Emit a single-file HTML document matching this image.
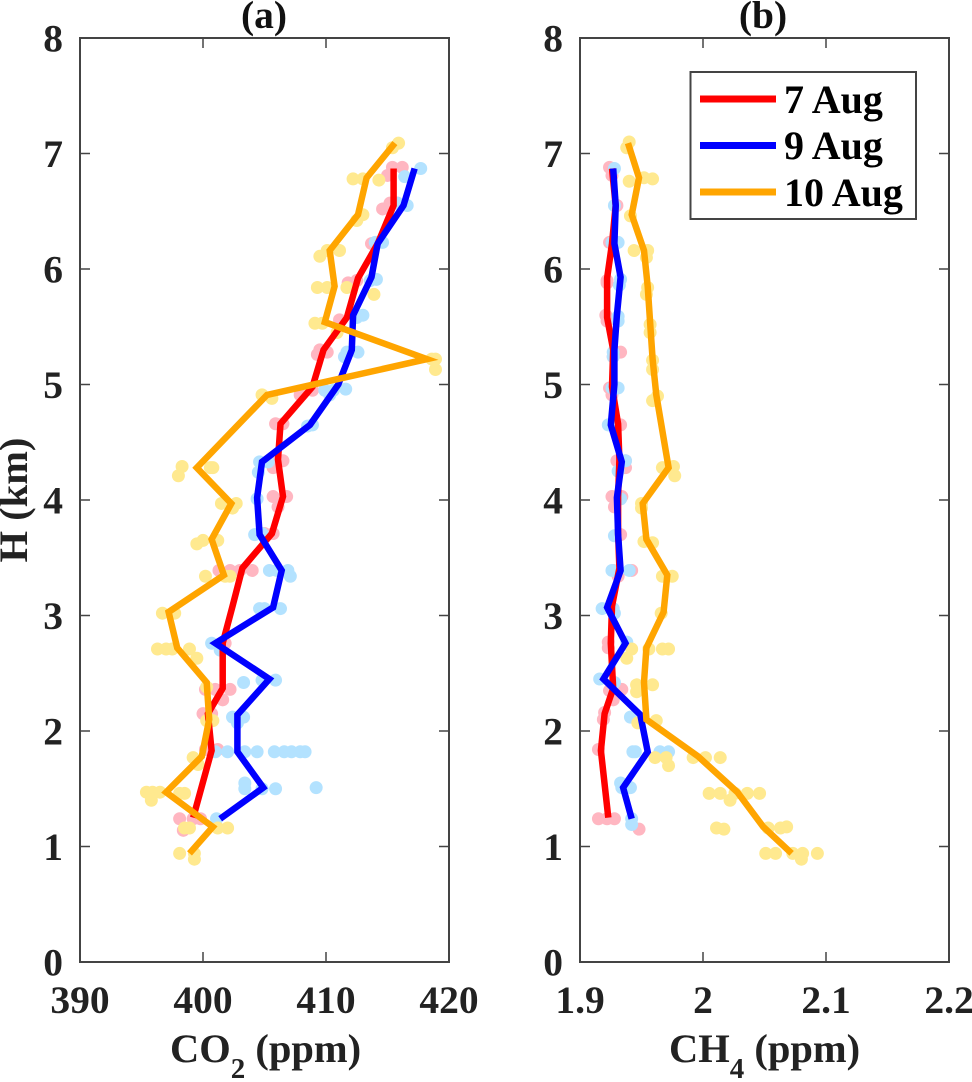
<!DOCTYPE html>
<html lang="en">
<head>
<meta charset="utf-8">
<title>CO2 and CH4 vertical profiles</title>
<style>
html,body{margin:0;padding:0;background:#fff;width:972px;height:1082px;overflow:hidden}
svg{display:block;position:absolute;left:0;top:0}
text{font-family:"Liberation Serif","Times New Roman",serif;font-weight:bold;font-size:39.5px;fill:#222}
.axis-title{font-size:40.5px}
.axis-sub{font-size:29px}
.legend-text{font-size:40px;fill:#000}
</style>
</head>
<body>
<svg id="chart" width="972" height="1082" viewBox="0 0 972 1082" xmlns="http://www.w3.org/2000/svg">
  <g id="panelA"></g>
  <g id="panelB"></g>
  <text x="264" y="28" text-anchor="middle" style="fill:#111">(a)</text>
  <text x="763" y="28" text-anchor="middle" style="fill:#111">(b)</text>
  <text class="axis-title" transform="translate(27,500) rotate(-90)" text-anchor="middle">H (km)</text>
  <text class="axis-title" x="170" y="1062">CO<tspan class="axis-sub" dy="16">2</tspan><tspan dy="-16"> (ppm)</tspan></text>
  <text class="axis-title" x="669" y="1062">CH<tspan class="axis-sub" dy="16">4</tspan><tspan dy="-16"> (ppm)</tspan></text>
  <g>
    <rect x="690.5" y="72" width="225.5" height="147" fill="#fff" stroke="#444" stroke-width="2"></rect>
    <line x1="700" x2="776" y1="99" y2="99" stroke="#ff0000" stroke-width="7"></line>
    <text class="legend-text" x="784" y="113">7 Aug</text>
    <line x1="700" x2="776" y1="145.5" y2="145.5" stroke="#0000ff" stroke-width="7"></line>
    <text class="legend-text" x="784" y="159">9 Aug</text>
    <line x1="700" x2="776" y1="192" y2="192" stroke="#ffa500" stroke-width="7"></line>
    <text class="legend-text" x="784" y="206">10 Aug</text>
  </g>
</svg>
<script>
const co2Ticks = [390, 400, 410, 420];
const co2TickLabels = ["390", "400", "410", "420"];
const ch4Ticks = [1.9, 2.0, 2.1, 2.2];
const ch4TickLabels = ["1.9", "2", "2.1", "2.2"];
const heightTicks = [0, 1, 2, 3, 4, 5, 6, 7, 8];

const h7 = [6.87,6.55,6.22,5.92,5.58,5.30,4.98,4.66,4.35,4.03,3.71,3.41,3.08,2.76,2.37,2.15,1.83,1.25];
const h9 = [6.87,6.55,6.22,5.93,5.60,5.30,5.00,4.65,4.33,4.02,3.70,3.39,3.07,2.76,2.45,2.14,1.82,1.51,1.24];
const h10 = [7.09,6.79,6.47,6.16,5.85,5.54,5.22,4.91,4.28,3.97,3.66,3.35,3.03,2.72,2.42,2.10,1.78,1.47,1.17,0.94];

const co2Line7 = [415.5,415.5,414.2,412.6,411.7,409.8,408.9,406.3,406.1,406.5,405.6,403.2,402.4,401.6,401.6,400.4,400.7,399.2];
const co2Line9 = [417.2,416.3,414.2,413.7,412.2,412.1,411.0,408.7,404.8,404.4,404.6,406.4,405.7,401.0,405.4,402.8,402.8,404.9,401.4];
const co2Line10 = [415.6,413.3,412.6,410.3,410.7,409.9,418.2,405.2,399.5,402.3,400.7,401.7,397.2,397.9,400.3,400.5,399.9,397.0,400.8,398.9];

const ch4Line7 = [1.926,1.929,1.926,1.922,1.922,1.927,1.926,1.931,1.932,1.931,1.931,1.932,1.926,1.925,1.927,1.920,1.917,1.923];
const ch4Line9 = [1.927,1.929,1.928,1.933,1.930,1.928,1.928,1.925,1.934,1.930,1.931,1.933,1.922,1.937,1.919,1.949,1.955,1.935,1.942];
const ch4Line10 = [1.939,1.948,1.942,1.952,1.955,1.957,1.959,1.962,1.972,1.951,1.954,1.971,1.968,1.954,1.952,1.954,1.996,2.028,2.049,2.072];

const co2Dots7 = [415.0,415.4,416.2,414.6,415.2,415.8,413.7,411.8,412.5,411.1,409.3,410.1,409.5,407.9,408.9,405.9,406.5,405.7,406.5,406.0,405.7,406.8,406.1,405.7,405.0,401.3,402.2,403.0,404.0,401.8,400.2,401.0,402.2,401.6,400.0,400.7,400.2,401.2,398.1,399.2,399.8,398.4];
const co2DotsH7 = [6.81,6.88,6.88,6.52,6.57,6.57,6.22,5.88,5.90,5.56,5.26,5.28,5.30,4.91,4.95,4.66,4.66,4.28,4.34,4.34,4.03,4.03,3.94,3.71,3.71,3.39,3.39,3.39,3.39,2.76,2.36,2.36,2.36,2.27,2.15,2.15,1.84,1.84,1.24,1.24,1.24,1.14];

const co2Dots9 = [417.7,416.4,416.6,415.8,414.6,414.0,414.1,413.6,413.0,412.5,412.6,411.7,411.5,411.6,410.6,409.9,410.3,408.5,408.9,404.6,405.3,404.5,404.4,404.2,404.8,405.4,406.0,406.9,407.1,404.6,405.0,406.3,400.7,401.4,403.3,404.8,405.9,402.4,403.3,402.8,401.0,402.0,403.4,404.4,405.8,406.6,407.2,407.9,408.3,403.4,403.4,404.8,405.9,409.2,401.1];
const co2DotsH9 = [6.87,6.80,6.55,6.57,6.23,6.23,5.91,5.90,5.60,5.58,5.28,5.28,5.24,4.96,4.95,4.95,4.91,4.64,4.65,4.33,4.33,4.24,4.01,3.70,3.71,3.39,3.39,3.39,3.34,3.06,3.06,3.06,2.76,2.70,2.42,2.44,2.44,2.12,2.12,2.07,1.82,1.82,1.82,1.82,1.82,1.82,1.82,1.82,1.82,1.55,1.50,1.50,1.50,1.51,1.24];

const co2Dots10 = [415.9,415.4,412.2,413.0,414.3,413.0,412.5,409.5,410.1,411.1,409.3,410.1,411.7,413.9,409.1,409.7,410.9,418.9,418.6,418.9,404.8,405.6,398.3,398.0,400.8,400.6,401.5,402.7,402.4,399.5,400.0,401.2,400.2,401.8,402.2,396.7,397.7,396.3,397.0,397.5,398.9,399.5,400.3,400.8,400.3,399.2,399.6,395.4,395.9,396.5,398.1,398.5,395.8,398.5,398.9,401.2,402.0,398.1,399.3,399.3];
const co2DotsH10 = [7.09,7.05,6.78,6.78,6.77,6.47,6.42,6.11,6.16,6.16,5.84,5.84,5.84,5.78,5.53,5.53,5.45,5.22,5.22,5.13,4.91,4.88,4.29,4.21,4.28,4.28,3.97,3.97,3.93,3.62,3.65,3.65,3.34,3.34,3.34,3.02,3.02,2.71,2.71,2.71,2.71,2.63,2.38,2.09,2.09,1.77,1.71,1.47,1.47,1.47,1.46,1.46,1.40,1.16,1.16,1.16,1.16,0.94,0.94,0.89];

const ch4Dots7 = [1.924,1.927,1.926,1.930,1.924,1.922,1.922,1.921,1.922,1.933,1.927,1.924,1.926,1.933,1.930,1.937,1.937,1.926,1.934,1.928,1.933,1.942,1.927,1.931,1.923,1.923,1.934,1.924,1.927,1.920,1.919,1.915,1.915,1.922,1.928,1.948];
const ch4DotsH7 = [6.88,6.87,6.81,6.55,6.23,5.90,5.88,5.60,5.55,5.28,5.24,4.97,4.91,4.65,4.34,4.28,4.34,4.03,4.03,3.94,3.70,3.39,3.39,3.34,2.77,2.72,2.36,2.35,2.27,2.16,2.10,1.84,1.24,1.24,1.24,1.15];

const ch4Dots9 = [1.928,1.928,1.931,1.926,1.933,1.932,1.931,1.931,1.927,1.927,1.931,1.926,1.923,1.937,1.931,1.933,1.928,1.926,1.940,1.930,1.918,1.927,1.928,1.938,1.916,1.928,1.941,1.943,1.945,1.965,1.972,1.933,1.934,1.941,1.942,1.942];
const ch4DotsH9 = [6.87,6.55,6.23,6.23,5.91,5.86,5.59,5.55,5.28,5.24,4.97,4.97,4.65,4.34,4.25,4.01,3.69,3.39,3.39,3.38,3.06,3.06,3.02,2.77,2.45,2.42,2.12,1.82,1.82,1.82,1.82,1.55,1.51,1.51,1.24,1.19];

const ch4Dots10 = [1.940,1.938,1.940,1.952,1.959,1.941,1.944,1.955,1.954,1.955,1.954,1.957,1.957,1.959,1.959,1.963,1.959,1.967,1.976,1.977,1.950,1.950,1.952,1.959,1.967,1.975,1.966,1.942,1.956,1.967,1.972,1.938,1.946,1.959,1.946,1.947,1.962,1.961,1.970,1.972,1.992,2.002,2.014,2.005,2.014,2.022,2.026,2.036,2.046,2.011,2.017,2.053,2.063,2.068,2.051,2.059,2.073,2.081,2.080,2.093];
const ch4DotsH10 = [7.10,7.05,6.76,6.79,6.78,6.46,6.16,6.16,6.10,5.84,5.78,5.52,5.45,5.21,5.13,4.90,4.86,4.28,4.29,4.21,3.97,3.93,3.64,3.63,3.34,3.34,3.02,2.71,2.71,2.71,2.71,2.63,2.40,2.40,2.34,2.07,2.09,1.77,1.77,1.70,1.77,1.77,1.77,1.46,1.46,1.40,1.46,1.46,1.46,1.16,1.15,1.16,1.16,1.17,0.94,0.94,0.94,0.94,0.89,0.94];

const NS = 'http://www.w3.org/2000/svg';
const plotTop = 38, plotBottom = 962;
function yScale(h) { return plotBottom - (h / 8) * (plotBottom - plotTop); }
function co2Scale(v) { return 80 + (v - 390) / 30 * 369; }
function ch4Scale(v) { return 580 + (v - 1.9) / 0.3 * 369; }

function make(parent, tag, attrs) {
  const el = document.createElementNS(NS, tag);
  for (const k in attrs) el.setAttribute(k, attrs[k]);
  parent.appendChild(el);
  return el;
}

function drawAxes(g, xScale, ticks, labels, left, right) {
  const frame = make(g, 'rect', { x: left, y: plotTop, width: right - left, height: plotBottom - plotTop, fill: 'none', stroke: '#444', 'stroke-width': 2 });
  
  
  ticks.forEach(function (t, i) {
    const x = xScale(t);
    const tickB = make(g, 'line', { x1: x, x2: x, y1: plotBottom, y2: plotBottom - 10, stroke: '#444', 'stroke-width': 1.5 });
    
    
    const tickT = make(g, 'line', { x1: x, x2: x, y1: plotTop, y2: plotTop + 10, stroke: '#444', 'stroke-width': 1.5 });
    
    
    const lab = make(g, 'text', { x: x, y: 1013, 'text-anchor': 'middle' });
    lab.textContent = labels[i];
    
    
  });
  heightTicks.forEach(function (h) {
    const y = yScale(h);
    const tickL = make(g, 'line', { x1: left, x2: left + 10, y1: y, y2: y, stroke: '#444', 'stroke-width': 1.5 });
    
    
    const tickR = make(g, 'line', { x1: right, x2: right - 10, y1: y, y2: y, stroke: '#444', 'stroke-width': 1.5 });
    
    
    const lab = make(g, 'text', { x: left - 17, y: y + 13.5, 'text-anchor': 'end' });
    lab.textContent = String(h);
    
    
  });
}

function drawDots(g, xScale, values, heights, color, name) {
  values.forEach(function (v, i) {
    const c = make(g, 'circle', { cx: xScale(v), cy: yScale(heights[i]), r: 6.5, fill: color });
    
    
  });
}

function drawLine(g, xScale, values, heights, color, name) {
  const pts = values.map(function (v, i) { return xScale(v).toFixed(1) + ',' + yScale(heights[i]).toFixed(1); }).join(' ');
  const p = make(g, 'polyline', { points: pts, fill: 'none', stroke: color, 'stroke-width': 6.5, 'stroke-linejoin': 'miter', 'stroke-miterlimit': 4 });
  
  
}

const PINK = '#ffb6c1', SKY = '#b3e2ff', SAND = '#ffe98f';
const RED = '#ff0000', BLUE = '#0000ff', ORANGE = '#ffa500';

const gA = document.getElementById('panelA');
drawDots(gA, co2Scale, co2Dots7, co2DotsH7, PINK, 'co2-sample-7-aug');
drawDots(gA, co2Scale, co2Dots9, co2DotsH9, SKY, 'co2-sample-9-aug');
drawDots(gA, co2Scale, co2Dots10, co2DotsH10, SAND, 'co2-sample-10-aug');
drawLine(gA, co2Scale, co2Line7, h7, RED, 'co2-line-7-aug');
drawLine(gA, co2Scale, co2Line9, h9, BLUE, 'co2-line-9-aug');
drawLine(gA, co2Scale, co2Line10, h10, ORANGE, 'co2-line-10-aug');
drawAxes(gA, co2Scale, co2Ticks, co2TickLabels, 80, 449);

const gB = document.getElementById('panelB');
drawDots(gB, ch4Scale, ch4Dots7, ch4DotsH7, PINK, 'ch4-sample-7-aug');
drawDots(gB, ch4Scale, ch4Dots9, ch4DotsH9, SKY, 'ch4-sample-9-aug');
drawDots(gB, ch4Scale, ch4Dots10, ch4DotsH10, SAND, 'ch4-sample-10-aug');
drawLine(gB, ch4Scale, ch4Line7, h7, RED, 'ch4-line-7-aug');
drawLine(gB, ch4Scale, ch4Line9, h9, BLUE, 'ch4-line-9-aug');
drawLine(gB, ch4Scale, ch4Line10, h10, ORANGE, 'ch4-line-10-aug');
drawAxes(gB, ch4Scale, ch4Ticks, ch4TickLabels, 580, 949);
</script>
</body>
</html>
